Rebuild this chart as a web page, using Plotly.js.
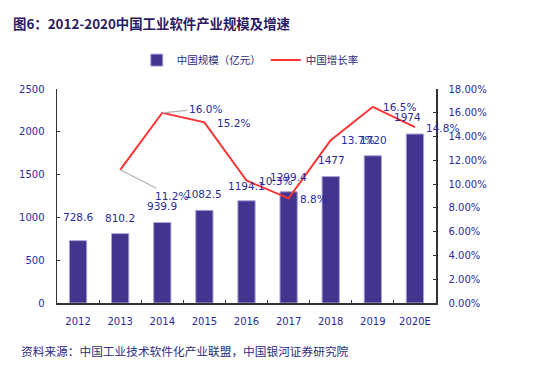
<!DOCTYPE html>
<html><head><meta charset="utf-8">
<script src="https://cdn.plot.ly/plotly-3.0.1.min.js"></script>
<style>html,body{margin:0;padding:0;background:#fff;}#chart{width:534px;height:374px;}</style>
</head><body><div id="chart"></div>
<script>
// ---- data ----
const years = ['2012','2013','2014','2015','2016','2017','2018','2019','2020E'];
const scale = [728.6, 810.2, 939.9, 1082.5, 1194.1, 1299.4, 1477, 1720, 1974];
const growthYears = ['2013','2014','2015','2016','2017','2018','2019','2020E'];
const growth = [11.2, 16.0, 15.2, 10.3, 8.8, 13.7, 16.5, 14.8];
const scaleName = '中国规模（亿元）';
const growthName = '中国增长率';
const titleText = '图6：2012-2020中国工业软件产业规模及增速';
const sourceText = '资料来源：中国工业技术软件化产业联盟，中国银河证券研究院';

// ---- label placement (styling, pixel offsets: [dx right, dy down]) ----
const barLabelShift = [[0,-24],[0,-16],[0,-17],[-1,-16],[0,-15],[0,-15],[1,-17],[1,-16],[-7,-17]];
const growthLabelShift = [[51,26],[43,-4],[29,1],[29,0],[25,1],[27,0],[27,0],[28,1]];

const labelColor = '#2a2a9c';
const font = 'DejaVu Sans, Verdana, sans-serif';
const cjk = 'Noto Sans CJK SC, sans-serif';

const annotations = [];
scale.forEach((v,i)=>{
  annotations.push({x: i, y: v, xref:'x', yref:'y', text: String(v),
    showarrow:false, xshift: barLabelShift[i][0], yshift: -barLabelShift[i][1],
    font:{family:font, size:10.5, color:labelColor}});
});
growth.forEach((v,i)=>{
  const s = growthLabelShift[i];
  const a = {x: years.indexOf(growthYears[i]), y: v, xref:'x', yref:'y2', text: v.toFixed(1)+'%',
    font:{family:font, size:10.5, color:labelColor}};
  if (i < 2) {
    Object.assign(a, {showarrow:true, arrowhead:0, arrowwidth:1.2, arrowcolor:'#b0b0b0',
      ax: s[0], ay: s[1], standoff:0, xanchor:'center'});
  } else {
    Object.assign(a, {showarrow:false, xshift:s[0], yshift:-s[1]});
  }
  annotations.push(a);
});
annotations.push({xref:'paper', yref:'paper', x:-0.122, y:1.308, xanchor:'left', yanchor:'middle',
  text:'<b>'+titleText+'</b>', showarrow:false, font:{family:cjk, size:13.4, color:'#2a1a66'}});
annotations.push({xref:'paper', yref:'paper', x:-0.1, y:-0.22, xanchor:'left', yanchor:'middle',
  text:sourceText, showarrow:false, font:{family:cjk, size:11.7, color:'#2d2a80'}});

const traces = [
  {type:'bar', x: years, y: scale, name: scaleName, width:0.41,
   marker:{color:'#43358f', line:{color:'#a9a3d6', width:1}}, yaxis:'y'},
  {type:'scatter', mode:'lines', x: growthYears, y: growth, name: growthName,
   line:{color:'#ff3333', width:2}, yaxis:'y2'}
];

const layout = {
  width:534, height:374,
  margin:{l:57, r:98, t:89, b:71},
  paper_bgcolor:'#ffffff', plot_bgcolor:'rgba(0,0,0,0)',
  showlegend:true,
  legend:{orientation:'h', x:0.51, xanchor:'center', y:1.135, yanchor:'middle',
    font:{family:cjk, size:10.5, color:'#2d2a80'}, itemwidth:30, traceorder:'normal'},
  xaxis:{type:'category', categoryarray: years, categoryorder:'array', range:[-0.5, years.length-0.5],
    showline:true, linecolor:'#333', linewidth:1.5,
    ticks:'inside', tickson:'boundaries', ticklen:3, tickcolor:'#333',
    tickfont:{family:font, size:10, color:labelColor}, ticklabelstandoff:8, showgrid:false, zeroline:false},
  yaxis:{range:[0,2500], dtick:500, showline:true, linecolor:'#333', linewidth:1.5,
    ticks:'inside', ticklen:3, tickcolor:'#333', showgrid:false, zeroline:false,
    tickfont:{family:font, size:10, color:labelColor}, ticklabelstandoff:9},
  yaxis2:{range:[0,18], dtick:2, overlaying:'y', side:'right', showline:true, linecolor:'#333', linewidth:1.5,
    ticks:'inside', ticklen:3, tickcolor:'#333', showgrid:false, zeroline:false,
    ticksuffix:'%', tickformat:'.2f',
    tickfont:{family:font, size:10, color:labelColor}, ticklabelstandoff:9},
  annotations: annotations
};
Plotly.newPlot('chart', traces, layout, {displayModeBar:false, staticPlot:true});
</script></body></html>
